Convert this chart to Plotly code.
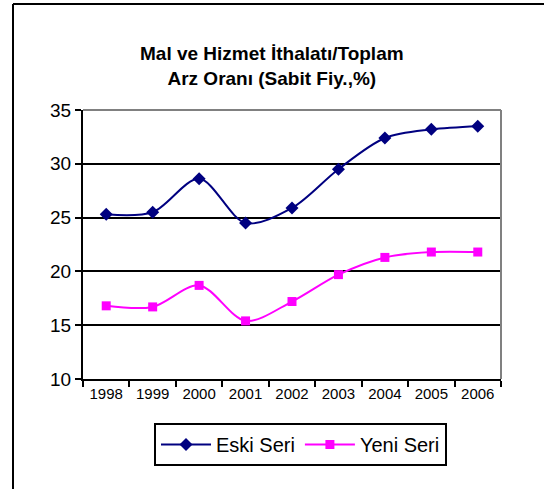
import plotly.graph_objects as go

years = ["1998", "1999", "2000", "2001", "2002", "2003", "2004", "2005", "2006"]
eski_seri = [25.3, 25.5, 28.6, 24.5, 25.9, 29.5, 32.4, 33.2, 33.5]
yeni_seri = [16.8, 16.7, 18.7, 15.4, 17.2, 19.7, 21.3, 21.8, 21.8]
y_ticks = [10, 15, 20, 25, 30, 35]

W, H = 544, 489
# plot area in reference pixels
X0, X1, Y0, Y1 = 83, 501, 110, 379
L, R, T, B = X0, W - X1, Y0, H - Y1
pw, ph = X1 - X0, Y1 - Y0

def px(x):
    return (x - X0) / pw

def py(y):
    return (Y1 - y) / ph

fig = go.Figure()
fig.add_trace(go.Scatter(
    x=years, y=eski_seri, name="Eski Seri", mode="lines+markers",
    line=dict(color="#000080", width=2, shape="spline", smoothing=0.9),
    marker=dict(symbol="diamond", size=10, color="#000080"),
))
fig.add_trace(go.Scatter(
    x=years, y=yeni_seri, name="Yeni Seri", mode="lines+markers",
    line=dict(color="#FF00FF", width=2, shape="spline", smoothing=0.9),
    marker=dict(symbol="square", size=9, color="#FF00FF"),
))

fig.update_layout(
    width=W, height=H,
    margin=dict(l=L, r=R, t=T, b=B, pad=0),
    paper_bgcolor="white", plot_bgcolor="white",
    font=dict(family="Liberation Sans, Arial, sans-serif", color="black"),
    showlegend=True,
    legend=dict(
        orientation="h", x=px(154), y=py(423), xanchor="left", yanchor="top",
        bordercolor="black", borderwidth=2, bgcolor="white",
        font=dict(size=20), itemwidth=50, tracegroupgap=0,
    ),
    xaxis=dict(
        type="category", tickson="boundaries", ticks="outside", ticklen=6,
        tickcolor="black", tickwidth=2, showline=True, linecolor="black",
        linewidth=2, showgrid=False, tickfont=dict(size=15), mirror=False,
        range=[-0.5, 8.5],
    ),
    yaxis=dict(
        range=[10, 35], tickvals=y_ticks, ticks="outside", ticklen=6,
        tickcolor="black", tickwidth=2, showline=True, linecolor="black",
        linewidth=2, showgrid=True, gridcolor="black", gridwidth=2,
        tickfont=dict(size=19), zeroline=False,
    ),
    annotations=[dict(
        text="<b>Mal ve Hizmet İthalatı/Toplam<br>Arz Oranı (Sabit Fiy.,%)</b>",
        x=px(272), y=py(66), xref="paper", yref="paper",
        xanchor="center", yanchor="middle", showarrow=False,
        font=dict(size=19), align="center",
    )],
    shapes=[
        dict(type="line", xref="paper", yref="paper", x0=0, x1=1, y0=1, y1=1,
             line=dict(color="#808080", width=2)),
        dict(type="line", xref="paper", yref="paper", x0=1, x1=1, y0=0, y1=1,
             line=dict(color="#808080", width=2)),
        # outer chart frame: left and top edges (others lie outside the window)
        dict(type="line", xref="paper", yref="paper",
             x0=px(13), x1=px(13), y0=py(489), y1=py(4),
             line=dict(color="black", width=2)),
        dict(type="line", xref="paper", yref="paper",
             x0=px(13), x1=px(544), y0=py(4), y1=py(4),
             line=dict(color="black", width=2)),
    ],
)

fig.write_html("out.html", config={"displayModeBar": False},
               post_script="document.body.style.margin='0';")
